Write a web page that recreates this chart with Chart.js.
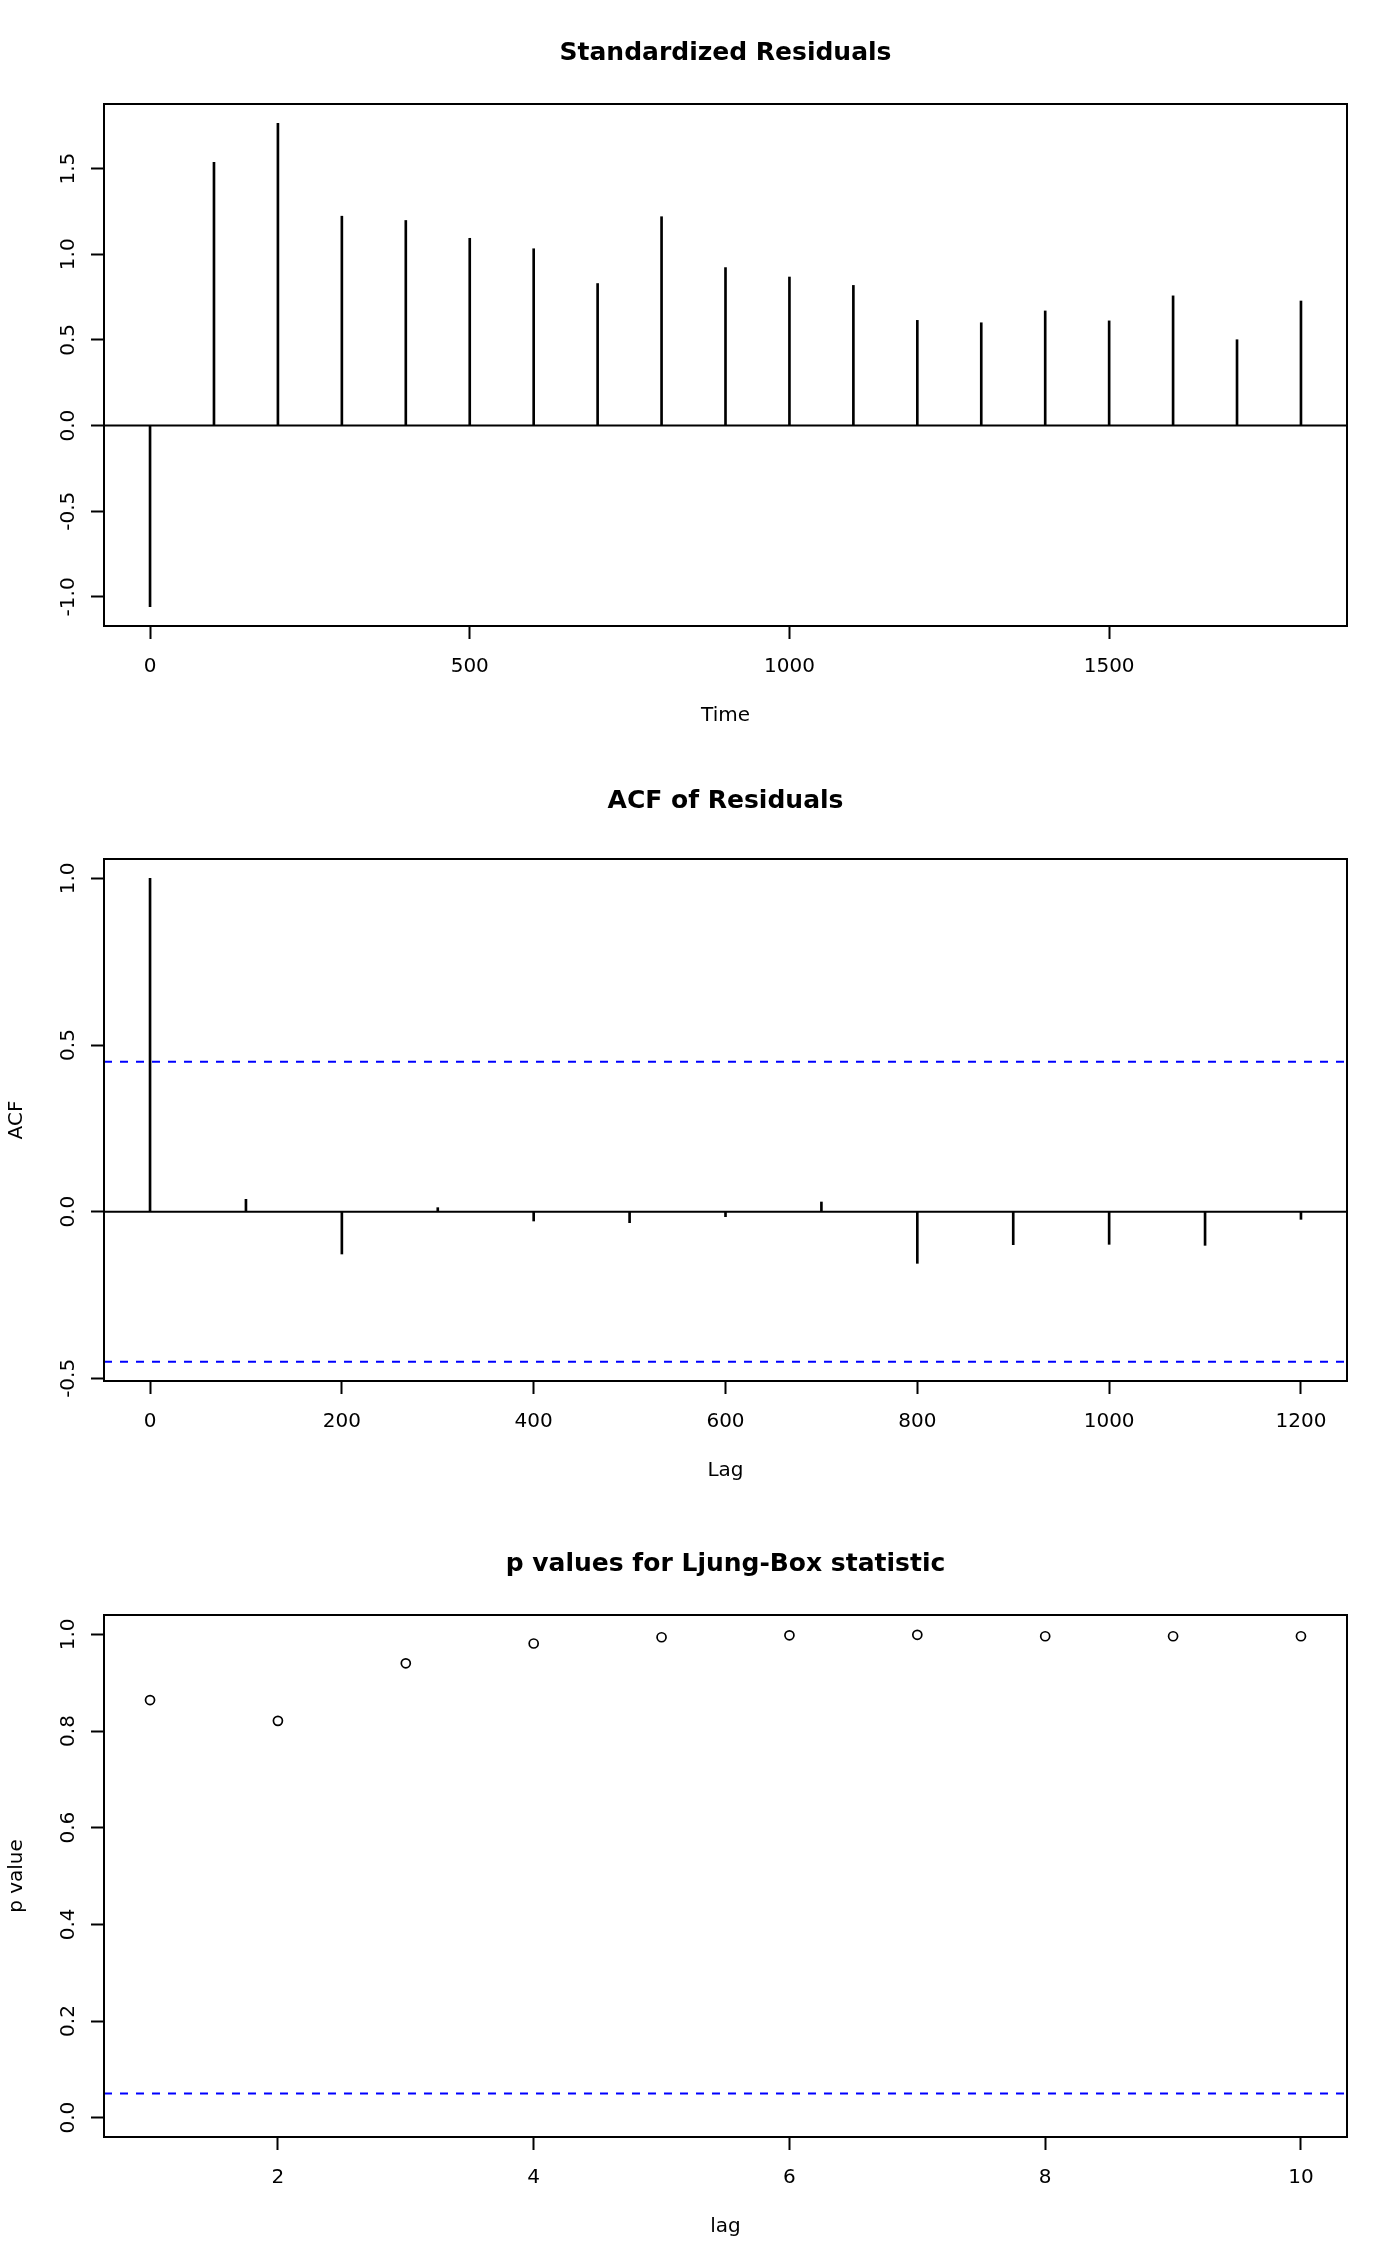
<!DOCTYPE html>
<html>
<head>
<meta charset="utf-8">
<script src="https://cdn.jsdelivr.net/npm/chart.js@4.4.1/dist/chart.umd.min.js"></script>
<style>
html, body { margin: 0; padding: 0; background: #fff; }
body { width: 1400px; height: 2266px; position: relative; overflow: hidden; }
canvas { position: absolute; left: 0; }
</style>
</head>
<body>
<canvas id="resid" width="1400" height="755" style="top:0px"></canvas>
<canvas id="acf" width="1400" height="755" style="top:755px"></canvas>
<canvas id="ljung" width="1400" height="755" style="top:1511px"></canvas>
<script>
// standardized residuals
const residTime = [0, 100, 200, 300, 400, 500, 600, 700, 800, 900, 1000, 1100, 1200, 1300, 1400, 1500, 1600, 1700, 1800];
const residValues = [-1.057, 1.536, 1.764, 1.222, 1.197, 1.093, 1.032, 0.829, 1.219, 0.922, 0.867, 0.818, 0.614, 0.600, 0.669, 0.611, 0.757, 0.501, 0.727];
const residXTicks = [0, 500, 1000, 1500];
const residYTicks = [-1.0, -0.5, 0.0, 0.5, 1.0, 1.5];

// ACF of residuals
const acfLags = [0, 100, 200, 300, 400, 500, 600, 700, 800, 900, 1000, 1100, 1200];
const acfValues = [1.0, 0.037, -0.127, 0.012, -0.028, -0.033, -0.015, 0.029, -0.155, -0.099, -0.098, -0.101, -0.023];
const acfXTicks = [0, 200, 400, 600, 800, 1000, 1200];
const acfYTicks = [-0.5, 0.0, 0.5, 1.0];
const acfLimit = 0.45;

// Ljung-Box p values
const ljungLags = [1, 2, 3, 4, 5, 6, 7, 8, 9, 10];
const ljungPValues = [0.864, 0.821, 0.940, 0.981, 0.994, 0.998, 0.999, 0.996, 0.996, 0.996];
const ljungXTicks = [2, 4, 6, 8, 10];
const ljungYTicks = [0.0, 0.2, 0.4, 0.6, 0.8, 1.0];
const ljungLevel = 0.05;

Chart.defaults.font.family = '"DejaVu Sans", sans-serif';
Chart.defaults.color = '#000';

// R style axis range: data range widened by 4% each side
function rRange(lo, hi) {
    const d = (hi - lo) * 0.04;
    return [lo - d, hi + d];
}

// box, reference lines and rotated y tick labels, R style
const rFrame = {
    id: 'rFrame',
    afterDatasetsDraw(chart, args, opts) {
        const ctx = chart.ctx;
        const a = chart.chartArea;
        const y = chart.scales.y;
        ctx.save();
        (opts.lines || []).forEach(l => {
            const py = y.getPixelForValue(l.value);
            ctx.beginPath();
            ctx.setLineDash(l.dash || []);
            ctx.strokeStyle = l.color;
            ctx.lineWidth = 2;
            ctx.moveTo(a.left, py);
            ctx.lineTo(a.right, py);
            ctx.stroke();
        });
        ctx.setLineDash([]);
        ctx.strokeStyle = '#000';
        ctx.lineWidth = 2;
        ctx.strokeRect(a.left, a.top, a.right - a.left, a.bottom - a.top);

        ctx.fillStyle = '#000';
        ctx.font = '20px "DejaVu Sans"';
        ctx.textAlign = 'center';
        ctx.textBaseline = 'alphabetic';
        y.ticks.forEach(t => {
            ctx.save();
            ctx.translate(74, y.getPixelForValue(t.value));
            ctx.rotate(-Math.PI / 2);
            ctx.fillText(t.label, 0, 0);
            ctx.restore();
        });
        ctx.restore();
    }
};

function axisGrid() {
    return { display: true, drawOnChartArea: false, drawTicks: true, tickLength: 13, tickWidth: 2, tickColor: '#000' };
}

function makeOptions(cfg) {
    const titleTop = cfg.titleTop || 38;
    return {
        responsive: false,
        animation: false,
        devicePixelRatio: 1,
        layout: { padding: { left: 0, right: 53, top: 0, bottom: 0 } },
        plugins: {
            legend: { display: false },
            tooltip: { enabled: false },
            title: {
                display: true,
                text: cfg.title,
                fullSize: false,
                font: { size: 25, weight: 'bold' },
                color: '#000',
                padding: { top: titleTop, bottom: 74 - titleTop }
            },
            rFrame: { lines: cfg.lines }
        },
        scales: {
            x: {
                type: 'linear',
                min: cfg.xRange[0],
                max: cfg.xRange[1],
                offset: false,
                grid: Object.assign(axisGrid(), { offset: false }),
                border: { display: false },
                afterBuildTicks: s => { s.ticks = cfg.xTicks.map(v => ({ value: v })); },
                afterFit: s => { s.height = 129; },
                ticks: {
                    font: { size: 20 },
                    color: '#000',
                    padding: 16,
                    maxRotation: 0,
                    autoSkip: false,
                    callback: v => String(v)
                },
                title: {
                    display: true,
                    text: cfg.xTitle,
                    font: { size: 20 },
                    color: '#000',
                    padding: { top: 0, bottom: 27 }
                }
            },
            y: {
                type: 'linear',
                min: cfg.yRange[0],
                max: cfg.yRange[1],
                grid: axisGrid(),
                border: { display: false },
                afterBuildTicks: s => { s.ticks = cfg.yTicks.map(v => ({ value: v })); },
                afterFit: s => { s.width = 104; },
                ticks: {
                    display: false,
                    callback: v => v.toFixed(1)
                },
                title: {
                    display: cfg.yTitle !== '',
                    text: cfg.yTitle,
                    font: { size: 20 },
                    color: '#000',
                    padding: { top: 5, bottom: 0 }
                }
            }
        }
    };
}

// 1: standardized residuals
new Chart(document.getElementById('resid').getContext('2d'), {
    type: 'bar',
    data: {
        datasets: [{
            data: residTime.map((t, i) => ({ x: t, y: residValues[i] })),
            backgroundColor: '#000',
            borderWidth: 0,
            barThickness: 2
        }]
    },
    options: makeOptions({
        title: 'Standardized Residuals',
        xTitle: 'Time',
        yTitle: '',
        xRange: rRange(Math.min(...residTime), Math.max(...residTime)),
        yRange: rRange(Math.min(...residValues), Math.max(...residValues)),
        xTicks: residXTicks,
        yTicks: residYTicks,
        lines: [{ value: 0, color: '#000' }]
    }),
    plugins: [rFrame]
});

// 2: ACF of residuals (its title sits a little higher)
new Chart(document.getElementById('acf').getContext('2d'), {
    type: 'bar',
    data: {
        datasets: [{
            data: acfLags.map((l, i) => ({ x: l, y: acfValues[i] })),
            backgroundColor: '#000',
            borderWidth: 0,
            barThickness: 2
        }]
    },
    options: makeOptions({
        title: 'ACF of Residuals',
        titleTop: 31,
        xTitle: 'Lag',
        yTitle: 'ACF',
        xRange: rRange(Math.min(...acfLags), Math.max(...acfLags)),
        yRange: rRange(Math.min(-acfLimit, ...acfValues), Math.max(acfLimit, ...acfValues)),
        xTicks: acfXTicks,
        yTicks: acfYTicks,
        lines: [
            { value: 0, color: '#000' },
            { value: acfLimit, color: '#0000ff', dash: [8, 8] },
            { value: -acfLimit, color: '#0000ff', dash: [8, 8] }
        ]
    }),
    plugins: [rFrame]
});

// 3: p values for Ljung-Box statistic
new Chart(document.getElementById('ljung').getContext('2d'), {
    type: 'scatter',
    data: {
        datasets: [{
            data: ljungLags.map((l, i) => ({ x: l, y: ljungPValues[i] })),
            pointStyle: 'circle',
            pointRadius: 4.5,
            pointBorderWidth: 1.7,
            pointBorderColor: '#000',
            pointBackgroundColor: 'rgba(0,0,0,0)'
        }]
    },
    options: makeOptions({
        title: 'p values for Ljung-Box statistic',
        xTitle: 'lag',
        yTitle: 'p value',
        xRange: rRange(Math.min(...ljungLags), Math.max(...ljungLags)),
        yRange: rRange(0, 1),
        xTicks: ljungXTicks,
        yTicks: ljungYTicks,
        lines: [{ value: ljungLevel, color: '#0000ff', dash: [8, 8] }]
    }),
    plugins: [rFrame]
});
</script>
</body>
</html>
